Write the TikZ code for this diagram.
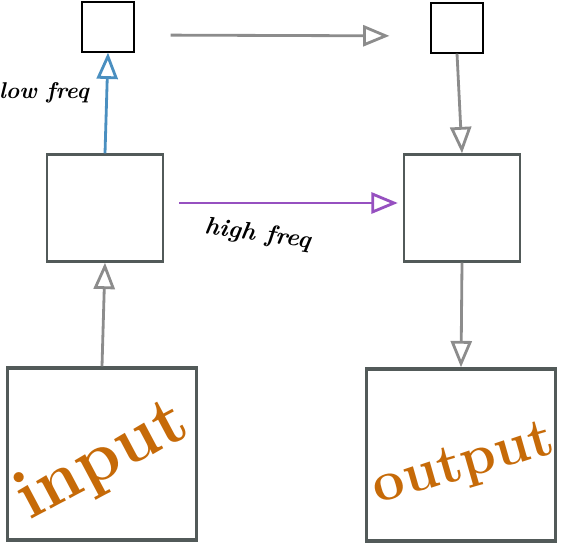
\documentclass[tikz,border=0pt]{standalone}
\usepackage{tikz}
\usetikzlibrary{arrows.meta,positioning}
\definecolor{boxgray}{HTML}{525A59}
\definecolor{arrgray}{HTML}{8C8C8C}
\definecolor{lowblue}{HTML}{4A8FC0}
\definecolor{highpurple}{HTML}{9650C0}
\definecolor{wordorange}{HTML}{C66A08}
\tikzset{
  smallbox/.style={draw=black, line width=0.7pt, minimum width=1.04cm, minimum height=1.0cm, inner sep=0pt},
  midbox/.style={draw=boxgray, line width=1.4pt, minimum width=2.32cm, minimum height=2.14cm, inner sep=0pt},
  bigbox/.style={draw=boxgray, line width=2pt, minimum width=3.78cm, minimum height=3.44cm, inner sep=0pt},
  flow/.style={->, line width=1.6pt, draw=arrgray},
  word/.style={text=wordorange, inner sep=0pt, font=\fontsize{40}{40}\selectfont\bfseries},
  freq/.style={inner sep=1pt, font=\fontsize{13}{13}\selectfont\bfseries\itshape}
}

\begin{document}
\begin{tikzpicture}[x=0.02cm, y=-0.02cm, >={Triangle[open, length=15pt, width=12pt, line width=1.6pt]}]
  \useasboundingbox (0,0) rectangle (570,544);
  \node[smallbox] (lowA) at (108,27) {};
  \node[smallbox] (lowB) at (457,28) {};
  \node[midbox] (midA) at (105,208) {};
  \node[midbox] (midB) at (462,208) {};
  \node[bigbox] (in) at (102,454) {};
  \node[bigbox] (out) at (461,455) {};
  \node[word, rotate=28] (inword) at (103,462) {input};
  \node[word, rotate=16, font=\fontsize{32}{32}\selectfont\bfseries] (outword) at (464,466) {output};
  \draw[flow, draw=lowblue] (midA.north) -- node[freq, pos=0.6, left=0.3cm] (lowlbl) {low freq} (lowA.south);
  \draw[flow, shorten <=0.72cm, shorten >=0.82cm] ([yshift=-0.16cm]lowA.east) -- ([yshift=-0.16cm]lowB.west);
  \draw[flow] (lowB.south) -- (midB.north);
  \draw[flow, draw=highpurple, shorten <=0.3cm, shorten >=0.1cm] ([yshift=0.1cm]midA.east) -- node[freq, pos=0.4, below=0.35cm, rotate=-8, font=\fontsize{14}{14}\selectfont\bfseries\itshape] (highlbl) {high freq} ([yshift=0.1cm]midB.west);
  \draw[flow] (in.north) -- (midA.south);
  \draw[flow] (midB.south) -- (out.north);
\end{tikzpicture}
\end{document}
